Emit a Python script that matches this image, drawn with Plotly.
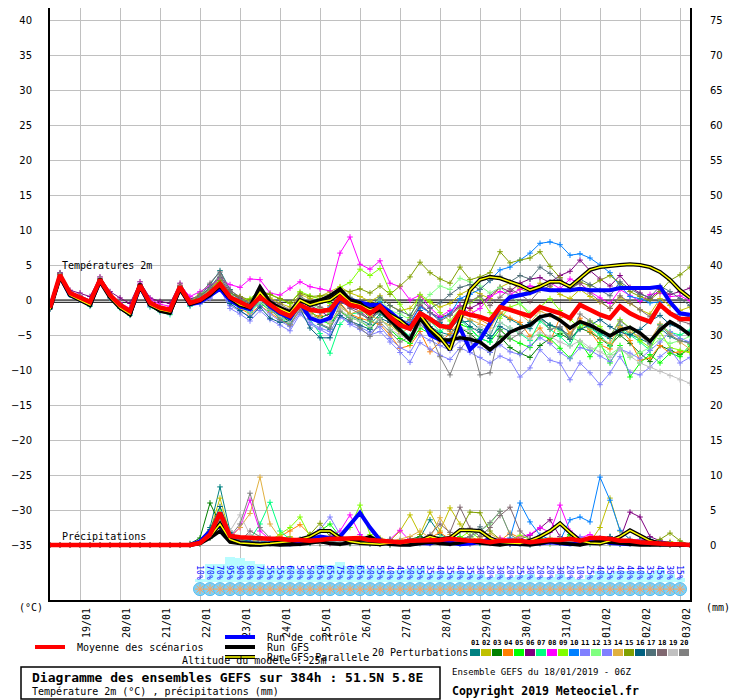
import plotly.graph_objects as go
import pandas as pd

# time axis: GEFS run 18/01/2019 06Z, 6-hourly steps up to 384h
times = pd.date_range('2019-01-18 06:00', periods=65, freq='6h')
pct_times = pd.date_range('2019-01-22 00:00', periods=49, freq='6h')
day_ticks = pd.date_range('2019-01-19', '2019-02-03', freq='D')
day_labels = [d.strftime('%d/%m') for d in day_ticks]

# 2m temperature (°C)
t_mean = [-1.1,3.6,1.0,0.4,-0.3,2.9,0.7,-0.7,-1.6,2.1,-0.4,-1.1,-1.4,1.9,-0.4,
          0.0,1.0,2.3,0.4,-0.3,-1.0,0.4,-0.7,
          -1.7,-2.3,-0.7,-1.4,-1.6,-1.4,0.4,-0.7,
          -1.0,-1.9,-0.9,-2.4,-3.6,-4.1,-1.9,-2.7,
          -3.7,-3.9,-1.7,-2.1,-2.4,-2.9,-1.0,-1.4,
          -1.9,-2.3,-1.0,-1.4,-1.9,-2.6,-0.7,-1.4,
          -2.1,-2.6,-0.9,-1.9,-2.6,-3.1,-0.7,-1.9,
          -2.7,-2.7]
t_control = [-1.1,3.4,0.7,0.0,-0.6,2.7,0.6,-1.0,-1.9,1.9,-0.6,-1.3,-1.6,1.7,-0.6,
             -0.3,0.6,1.6,0.0,-0.9,-1.3,1.0,-0.9,
             -1.9,-2.6,-0.4,-2.6,-3.1,-2.6,0.4,0.0,
             -0.3,-0.7,-0.7,-1.7,-2.9,-3.9,-2.1,-5.0,
             -5.7,-6.0,-4.0,-7.1,-5.7,-3.3,-1.0,0.4,
             0.7,1.0,1.6,1.4,1.4,1.4,1.6,1.4,
             1.4,1.4,1.7,1.7,1.7,1.7,1.9,-0.3,
             -1.9,-2.1]
t_gfs = [-1.3,3.4,0.9,0.1,-0.7,3.0,0.6,-1.1,-2.1,2.3,-0.6,-1.6,-1.9,1.7,-0.6,
         -0.1,0.7,2.1,0.3,-0.4,-0.9,1.9,-0.3,
         -1.1,-1.7,-0.1,-0.4,0.0,0.6,1.6,0.0,
         -0.4,-1.9,-1.4,-2.9,-4.3,-5.7,-2.6,-4.3,
         -5.7,-5.7,-5.4,-5.6,-6.0,-7.1,-6.0,-4.6,
         -4.0,-3.6,-2.4,-2.1,-2.9,-4.0,-3.1,-3.6,
         -4.3,-5.1,-4.3,-3.9,-4.7,-5.9,-4.3,-3.1,
         -3.9,-5.0]
t_para = [-1.3,3.3,0.7,0.0,-0.7,2.7,0.4,-1.1,-2.0,2.0,-0.7,-1.4,-1.7,1.6,-0.6,
          -0.1,0.9,2.0,0.3,-0.7,-1.1,1.1,-0.6,
          -1.3,-1.9,0.0,-0.7,-0.3,0.0,1.0,-0.3,
          -0.7,-1.4,-1.1,-2.1,-2.9,-4.1,-2.1,-4.0,
          -5.3,-7.1,-2.9,1.4,2.9,3.3,3.1,2.6,
          2.1,1.4,1.9,2.6,2.6,1.9,3.1,4.3,
          4.7,4.9,5.0,5.1,5.0,4.7,4.0,2.9,
          1.4,0.3]

t_p01 = [-1.0,3.8,1.1,0.3,-0.4,3.0,0.6,-0.8,-1.7,2.0,-0.5,-1.2,-1.5,1.8,-0.2,
         0.6,2.2,4.2,1.5,0.2,-1.5,1.0,-0.3,
         -2.5,-3.0,-0.2,-2.0,-3.5,-4.2,-0.5,-2.2,
         -2.8,-3.5,-2.0,-3.0,-4.5,-5.2,-2.5,-3.8,
         -4.6,-5.0,-3.2,-3.0,-4.2,-5.1,-2.0,-2.8,
         -3.5,-4.1,-2.5,-3.6,-4.2,-5.0,-3.1,-3.9,
         -4.8,-5.5,-3.6,-4.9,-5.6,-6.2,-4.0,-5.2,
         -5.9,-6.0]
t_p02 = [-1.2,3.5,0.9,0.2,-0.5,2.8,0.6,-0.9,-1.8,1.9,-0.6,-1.3,-1.6,1.7,-0.3,
         -0.2,0.8,2.0,0.8,0.5,-0.2,1.2,0.3,
         -0.5,-1.0,0.8,0.2,0.5,1.2,1.9,1.0,
         0.5,-0.2,0.6,-0.8,-1.5,-1.2,0.5,-0.3,
         -1.0,-0.5,0.8,1.5,0.9,0.2,1.8,2.5,
         1.6,1.0,2.4,1.9,0.8,0.2,1.5,0.5,
         -0.3,-1.2,0.4,-0.5,-1.4,-2.0,0.2,-0.8,
         -1.5,-1.0]
t_p03 = [-1.1,3.7,1.0,0.5,-0.2,3.0,0.8,-0.6,-1.5,2.1,-0.3,-1.0,-1.3,2.0,-0.4,
         0.3,1.2,2.8,0.2,-0.8,-1.8,0.0,-1.2,
         -2.0,-3.2,-1.0,-1.8,-2.5,-2.0,0.5,-0.8,
         -1.2,-2.5,-1.5,-3.2,-4.8,-5.5,-3.0,-4.2,
         -5.0,-5.8,-4.0,-4.8,-6.0,-7.5,-5.2,-6.8,
         -7.6,-8.2,-6.5,-5.5,-4.8,-5.6,-4.0,-4.6,
         -5.5,-6.5,-5.0,-6.2,-7.6,-8.8,-6.5,-7.2,
         -7.8,-7.0]
t_p04 = [-1.0,3.6,1.1,0.5,-0.2,2.9,0.9,-0.5,-1.4,2.2,-0.2,-0.9,-1.2,2.1,-0.5,
         0.2,1.5,3.0,0.0,-1.2,-2.0,-0.8,-1.8,
         -2.8,-3.5,-1.2,-2.6,-2.2,-0.8,-0.4,-2.0,
         -2.6,-3.0,-3.5,-5.0,-6.9,-6.5,-4.5,-7.4,
         -6.0,-4.8,-3.0,-1.2,-2.8,-3.6,-1.8,-2.6,
         -3.2,-5.2,-4.0,-6.0,-2.5,-4.8,-2.6,-4.5,
         -6.4,-7.0,-4.0,-5.8,-8.6,-8.3,-6.5,-7.6,
         -7.4,-7.4]
t_p05 = [-1.2,3.4,0.8,0.2,-0.6,2.7,0.5,-1.0,-1.9,1.8,-0.7,-1.4,-1.7,1.6,-0.6,
         -0.5,0.6,2.0,-0.2,-1.0,-1.6,-0.4,-1.5,
         -2.2,-2.8,-0.6,-1.5,-2.9,-3.4,-1.6,-2.5,
         -3.0,-4.0,-2.5,-4.2,-5.5,-6.2,-4.0,-4.8,
         -5.2,-5.9,-3.5,-4.0,-5.5,-6.0,-4.2,-5.5,
         -6.2,-6.8,-5.0,-5.5,-6.9,-8.3,-6.0,-8.1,
         -6.1,-9.0,-6.5,-11.0,-9.0,-7.8,-9.0,-7.6,
         -8.1,-6.4]
t_p06 = [-0.8,3.9,1.4,1.0,0.5,3.3,1.2,0.3,-0.5,2.6,0.3,-0.2,-0.5,2.4,0.2,
         0.5,1.8,3.2,1.0,0.2,-0.8,0.8,-0.2,
         -1.2,-1.8,0.2,-0.8,-1.5,-2.5,-0.2,-1.0,
         -1.6,-2.8,-1.2,-2.0,-3.0,-3.5,-0.8,-1.8,
         -2.5,-2.0,-0.8,-1.2,-0.5,0.6,1.8,1.2,
         2.4,3.0,3.2,2.5,3.5,4.1,5.7,4.2,
         3.0,2.0,3.5,1.8,1.0,0.2,1.5,0.8,
         1.2,1.7]
t_p07 = [-1.3,3.3,0.7,0.0,-0.9,2.6,0.3,-1.2,-2.2,1.5,-1.0,-1.7,-2.1,1.3,-0.9,
         -0.3,0.9,2.2,-0.4,-1.0,-1.8,-0.3,-1.4,
         -2.6,-3.4,-0.8,-2.8,-4.8,-7.6,-3.5,-2.0,
         -1.8,-3.0,-1.5,-2.8,-4.0,-5.2,-2.2,-3.0,
         -4.5,-3.5,-2.8,-4.2,-5.5,-6.0,-3.2,-4.0,
         -4.8,-5.8,-3.0,-4.2,-5.2,-6.5,-3.5,-4.0,
         -5.0,-6.6,-4.2,-5.0,-6.0,-7.2,-3.5,-4.6,
         -5.0,-4.3]
t_p08 = [-1.0,3.7,1.2,0.6,0.0,3.1,0.9,-0.4,-1.2,2.3,0.1,-0.6,-0.9,2.1,0.5,
         1.2,2.0,3.0,2.2,1.8,3.0,2.9,1.0,
         0.7,1.7,2.6,1.9,1.6,1.3,6.7,9.0,
         5.1,4.4,5.6,2.4,1.9,0.0,0.7,-1.1,
         -2.4,-1.5,-0.8,-2.0,-1.2,0.5,1.2,0.8,
         1.5,2.0,1.8,2.5,1.6,3.0,2.4,1.2,
         0.3,-0.5,1.5,0.6,-0.2,0.8,1.0,0.5,
         0.6,-0.1]
t_p09 = [-1.1,3.6,1.0,0.4,-0.3,2.9,0.7,-0.7,-1.6,2.0,-0.4,-1.1,-1.4,1.9,-0.3,
         0.8,1.5,2.6,0.6,-0.2,0.2,1.4,0.8,
         0.2,-0.5,1.2,0.6,0.0,-0.5,1.8,2.5,
         4.4,3.5,4.5,1.2,-0.6,-2.5,0.8,-0.2,
         -1.8,-3.0,-1.2,-0.4,0.5,-1.8,-2.6,-1.0,
         -0.5,-2.2,-1.0,0.2,-1.5,-2.8,-4.0,-3.0,
         -3.8,-5.2,-2.8,-4.0,-5.8,-6.8,-4.5,-6.8,
         -7.2,-7.5]
t_p10 = [-1.0,3.7,1.0,0.3,-0.5,2.8,0.6,-0.8,-1.7,2.0,-0.5,-1.2,-1.5,1.8,-0.5,
         0.0,1.0,2.2,0.0,-0.8,-1.5,0.0,-1.0,
         -1.8,-2.5,-0.8,-1.6,-1.8,-1.0,0.6,-0.5,
         -0.6,-1.5,-0.2,-1.8,-2.8,-3.2,-1.0,-1.8,
         -2.8,-2.0,0.2,0.8,1.5,2.8,4.3,4.7,
         5.7,6.7,8.1,8.3,7.9,6.4,6.6,6.0,
         5.0,3.9,2.0,0.5,0.2,-0.4,-0.3,-1.9,
         -2.1,-2.4]
t_p11 = [-1.2,3.5,0.9,0.1,-0.7,2.7,0.4,-1.0,-2.0,1.7,-0.8,-1.5,-1.8,1.6,-0.7,
         -0.4,0.4,1.8,-0.8,-1.6,-2.4,-0.8,-2.0,
         -3.0,-3.8,-1.8,-3.2,-4.0,-4.5,-2.2,-3.5,
         -4.2,-5.0,-4.5,-6.0,-7.5,-8.9,-6.1,-7.0,
         -7.9,-8.5,-6.8,-7.5,-8.2,-9.0,-8.0,-8.6,
         -11.0,-9.7,-7.1,-8.6,-9.0,-11.4,-9.0,-10.4,
         -12.1,-10.4,-8.1,-10.3,-10.7,-9.6,-8.1,-7.0,
         -9.0,-8.2]
t_p12 = [-1.1,3.6,1.1,0.5,-0.2,3.0,0.8,-0.6,-1.5,2.1,-0.3,-1.0,-1.3,2.0,-0.2,
         0.4,1.4,2.6,0.8,0.0,-0.6,0.9,-0.4,
         -1.0,-1.6,0.4,-0.6,-1.2,-1.8,0.3,-0.2,
         -0.4,-1.2,0.2,-1.5,-2.0,-2.8,-0.5,0.8,
         2.0,1.5,3.1,2.6,2.0,1.0,1.8,0.6,
         -0.5,-1.8,-2.5,-3.6,-4.5,-5.2,-6.0,-7.2,
         -6.5,-7.8,-6.8,-8.2,-7.5,-6.8,-5.5,-6.2,
         -5.8,-5.2]
t_p13 = [-1.3,3.4,0.8,0.0,-0.8,2.6,0.3,-1.1,-2.1,1.6,-0.9,-1.6,-1.9,1.5,-0.8,
         -0.6,0.2,1.6,-1.2,-2.0,-3.0,-1.5,-2.8,
         -3.6,-4.4,-2.0,-3.5,-4.2,-5.0,-2.5,-3.2,
         -3.8,-4.6,-3.8,-5.5,-6.8,-7.5,-5.0,-5.8,
         -6.5,-7.2,-5.8,-6.0,-6.8,-7.5,-6.4,-7.4,
         -7.8,-6.5,-5.4,-6.2,-7.5,-8.4,-6.8,-7.2,
         -8.0,-8.8,-7.0,-7.6,-8.4,-7.2,-6.0,-4.5,
         -5.5,-6.0]
t_p14 = [-1.0,3.7,1.1,0.4,-0.3,3.0,0.8,-0.6,-1.5,2.0,-0.4,-1.1,-1.3,2.0,-0.3,
         0.2,1.2,2.5,0.2,-0.6,-1.0,0.6,-0.8,
         -1.5,-2.2,-0.3,-1.8,-2.6,-3.3,-1.0,-2.0,
         -1.5,-2.2,-2.8,-3.6,-4.8,-3.9,-2.0,-3.1,
         -3.8,-4.5,-2.2,-2.8,-3.5,-4.0,-1.8,-1.2,
         -2.0,-3.2,-1.6,-2.2,-2.5,-5.0,-3.2,-4.2,
         -5.6,-6.2,-3.8,-4.6,-5.2,-5.8,-3.4,-4.8,
         -6.0,-7.0]
t_p15 = [-1.1,3.6,1.0,0.4,-0.3,2.9,0.7,-0.7,-1.6,2.0,-0.4,-1.1,-1.4,1.9,-0.4,
         0.6,1.6,2.8,1.0,0.5,0.0,1.2,0.8,
         0.2,-0.4,1.0,0.5,0.6,0.8,1.4,1.2,
         1.6,1.0,2.0,0.8,2.0,3.3,5.4,3.9,
         3.0,2.4,4.7,2.9,3.3,3.9,6.9,5.3,
         5.7,6.0,6.9,4.8,3.2,1.5,2.6,2.0,
         2.8,3.5,2.4,1.2,0.5,0.0,1.2,2.8,
         3.6,4.7]
t_p16 = [-1.2,3.5,0.9,0.3,-0.4,2.8,0.6,-0.8,-1.7,1.9,-0.5,-1.2,-1.5,1.8,-0.5,
         -0.2,0.7,1.9,-0.5,-1.5,-2.5,-1.0,-2.6,
         -3.2,-3.0,-1.2,-4.0,-5.4,-5.4,-2.2,-3.0,
         -3.6,-4.2,-2.6,-3.2,-2.5,-3.8,-1.5,-2.6,
         -3.2,-4.2,-2.6,-3.8,-4.6,-5.5,-3.8,-4.5,
         -4.0,-3.2,-2.5,-3.6,-4.0,-5.6,-4.2,-3.6,
         -2.8,-3.8,-4.6,-5.0,-4.2,-3.0,-2.2,-3.5,
         -4.0,-4.6]
t_p17 = [-1.1,3.6,1.0,0.3,-0.4,2.9,0.6,-0.8,-1.6,2.0,-0.5,-1.1,-1.5,1.9,-0.3,
         0.5,1.8,3.6,1.2,0.0,-0.4,0.8,-0.5,
         -1.2,-2.0,0.0,-1.0,-0.5,0.2,1.0,0.4,
         -0.2,-1.0,0.4,-0.8,-1.6,-2.2,0.0,-1.2,
         -0.4,0.8,1.8,2.2,1.5,2.8,3.4,2.6,
         3.5,3.0,4.7,3.8,2.6,1.8,3.0,2.2,
         1.4,0.6,2.6,1.6,0.8,0.4,2.0,1.2,
         0.2,-0.8]
t_p18 = [-1.0,3.8,1.2,0.6,0.0,3.1,0.9,-0.5,-1.4,2.2,-0.2,-0.9,-1.2,2.1,-0.1,
         0.9,2.4,4.0,1.4,0.4,-0.5,1.5,0.0,
         -0.6,-1.4,0.6,-0.4,-1.0,-1.5,0.2,-1.2,
         -2.0,-2.8,-1.6,-3.0,-3.5,-2.8,-0.6,-1.8,
         -3.0,-2.2,-1.0,-0.2,0.6,-0.8,0.4,1.6,
         0.8,-0.2,1.4,2.0,3.0,1.6,2.4,1.0,
         -0.2,-1.2,0.6,-0.4,-1.4,-2.4,-0.6,-1.8,
         -3.0,-3.4]
t_p19 = [-1.1,3.5,0.9,0.3,-0.5,2.8,0.5,-0.9,-1.8,1.9,-0.6,-1.3,-1.6,1.7,-0.5,
         0.0,0.9,2.1,0.0,-0.9,-1.7,-0.2,-1.4,
         -2.4,-3.2,-1.2,-2.2,-2.8,-3.2,-1.4,-2.4,
         -3.0,-3.8,-2.6,-4.2,-5.0,-5.8,-3.6,-4.4,
         -5.2,-5.6,-4.0,-4.4,-3.8,-4.6,-3.2,-4.0,
         -4.6,-5.6,-4.6,-5.2,-6.0,-6.6,-5.8,-6.8,
         -7.4,-8.2,-7.0,-8.0,-9.0,-9.6,-10.2,-10.8,
         -11.4,-11.9]
t_p20 = [-1.2,3.4,0.8,0.1,-0.7,2.6,0.4,-1.0,-1.9,1.8,-0.7,-1.4,-1.7,1.6,-0.7,
         0.4,1.6,3.4,0.6,-0.4,-1.2,0.4,-1.2,
         -2.8,-3.6,-1.4,-2.6,-3.4,-4.0,-1.6,-2.8,
         -4.0,-5.2,-3.2,-4.6,-6.0,-5.2,-3.4,-4.8,
         -8.1,-10.7,-7.1,-5.3,-10.7,-10.4,-4.3,-5.6,
         -4.8,-3.6,-2.6,-4.2,-3.8,-5.4,-2.0,-3.0,
         -4.4,-5.2,-3.0,-4.0,-5.0,-6.4,-3.6,-5.0,
         -5.8,-6.2]

# 6h precipitation (mm)
r_mean = [0,0,0,0,0,0,0,0,0,0,0,0,0,0,
          0.0,0.3,1.5,4.6,1.3, 1.1,1.0,1.0,0.9,0.9, 0.7,0.7,0.6,0.7,0.9,
          0.9,1.0,1.0,0.7,0.6, 0.4,0.4,0.6,0.6,0.7, 0.7,0.9,0.7,0.6,0.6,
          0.4,0.6,0.6,0.6,0.4, 0.6,0.7,0.7,0.9,0.6, 1.0,1.0,0.9,0.6,0.6,
          0.4,0.3,0.1,0.1,0.1,0.0]
r_control = [0,0,0,0,0,0,0,0,0,0,0,0,0,0,
             0,0.5,2.0,2.8,0.8, 0.3,0.2,0.1,0.2,0.1, 0.1,0.2,0.8,1.2,1.0,
             1.2,2.8,4.6,2.5,0.7, 0.2,0.1,0.1,0.3,0.2, 0.6,0.3,0.1,0.2,0.4,
             0.8,0.3,0.2,0.1,0.3, 0.2,0.4,0.3,0.1,0.2, 0.5,0.8,0.3,0.2,0.1,
             0.3,0.2,0.1,0,0,0]
r_gfs = [0,0,0,0,0,0,0,0,0,0,0,0,0,0,
         0,0.2,1.0,2.0,0.4, 0.2,0,0,0.1,0, 0,0.1,0.3,0.5,0.2,
         0.1,0.3,0.8,1.2,0.4, 0.1,0,0,0.2,0.4, 0.2,0.1,0.3,0.6,0.3,
         0.1,0,0.2,0.1,0, 0.2,0.5,0.3,0.1,0, 0.3,0.6,0.4,0.2,0.1,
         0,0,0.1,0,0,0]
r_para = [0,0,0,0,0,0,0,0,0,0,0,0,0,0,
          0,0.3,1.2,3.0,0.8, 0.3,0.2,0.1,0.2,0.3, 0.5,0.8,1.2,2.0,2.0,
          1.0,0.5,0.3,0.2,0.1, 0.3,0.2,0.4,0.6,1.2, 0.8,1.0,2.1,2.1,2.0,
          1.0,0.4,0.3,0.2,0.6, 1.2,2.0,3.1,1.8,0.6, 0.3,0.2,0.6,1.2,2.1,
          1.4,0.6,0.2,0.1,0,0]

r_p01 = [0,0,0,0,0,0,0,0,0,0,0,0,0,0,
         0,0.5,2.5,8.3,2.0, 0.8,0.5,0.3,0.6,1.0, 0.4,0.2,0.5,0.8,1.2,
         0.6,0.3,0.8,0.5,0.2, 0,0.3,0.6,1.0,3.6, 1.5,0.8,0.4,0.2,0.6,
         1.0,0.5,0.3,0.2,0, 0.4,0.8,0.5,0.3,0.6, 0.2,0.8,1.2,0.6,0.3,
         0.4,0.8,0.4,0.2,0,0]
r_p02 = [0,0,0,0,0,0,0,0,0,0,0,0,0,0,
         0,0.3,2.0,6.7,1.5, 0.6,0.3,0.2,0.4,0.8, 1.2,0.5,0.3,0.2,0.6,
         0.9,0.4,0.2,0.5,1.0, 0.6,2.0,4.3,1.5,4.7, 2.0,5.3,3.0,1.2,0.6,
         0.3,0.5,0.8,0.4,0.2, 0.6,1.0,0.5,1.4,0.8, 0.4,2.5,6.7,2.0,0.8,
         0.4,0.2,0.3,0.5,0.2,0]
r_p03 = [0,0,0,0,0,0,0,0,0,0,0,0,0,0,
         0.2,1.0,6.0,3.0,1.2, 0.6,0.4,0.3,0.2,0.5, 0.8,0.4,0.6,1.0,0.5,
         0.3,0.2,0.4,0.2,0.1, 0.3,0.5,0.8,1.2,0.6, 0.3,0.4,0.2,0.8,0.5,
         0.3,0.2,0.1,0.4,0.6, 0.3,0.2,0.5,0.3,0.2, 0.8,0.4,0.2,0.1,0.3,
         0.5,0.2,0.1,0,0,0]
r_p04 = [0,0,0,0,0,0,0,0,0,0,0,0,0,0,
         0,0.4,1.5,3.5,1.0, 0.5,0.8,0.4,0.6,1.2, 2.0,2.9,1.5,0.6,0.3,
         0.2,0.5,0.8,0.4,0.2, 0.1,0.3,0.2,0.6,1.0, 1.8,0.8,0.5,0.3,0.6,
         1.0,0.6,1.7,1.0,0.4, 0.2,0.5,0.8,0.3,0.6, 0.4,0.2,0.8,0.5,0.3,
         0.6,0.3,0.2,0.1,0,0]
r_p05 = [0,0,0,0,0,0,0,0,0,0,0,0,0,0,
         0,0.2,1.2,4.2,1.5, 0.6,0.3,0.2,0.5,0.3, 0.6,0.8,1.4,2.0,3.0,
         1.2,0.5,0.3,0.2,0.4, 0.8,0.4,0.2,0.3,0.6, 0.4,0.8,1.2,0.6,0.3,
         0.5,0.2,0.8,0.4,0.3, 1.0,0.6,0.3,1.5,0.5, 0.2,0.4,0.6,0.3,0.2,
         0.5,0.3,0.2,0.1,0,0]
r_p06 = [0,0,0,0,0,0,0,0,0,0,0,0,0,0,
         0,0.3,1.8,3.2,1.0, 0.5,0.2,0.4,0.3,0.2, 0.5,0.3,0.6,0.4,0.2,
         0.8,0.5,0.3,0.6,0.3, 0.2,0.4,0.3,0.8,0.5, 0.3,0.6,0.4,0.2,0.3,
         0.6,0.4,0.2,0.8,1.4, 2.4,3.6,1.2,0.6,0.3, 0.8,1.0,0.5,0.8,4.7,
         4.0,1.2,0.6,0.3,0.1,0]
r_p07 = [0,0,0,0,0,0,0,0,0,0,0,0,0,0,
         0,0.2,1.0,3.8,1.5, 1.0,0.8,3.0,6.1,2.0, 0.8,0.4,0.3,0.6,0.4,
         0.2,0.5,0.8,0.3,0.2, 0.4,0.6,0.3,0.2,0.8, 0.5,1.0,0.6,0.3,0.2,
         0.4,0.3,0.6,0.8,0.4, 0.2,0.3,0.5,0.2,0.6, 0.3,0.2,0.4,0.2,0.6,
         0.8,0.4,0.2,0.1,0,0]
r_p08 = [0,0,0,0,0,0,0,0,0,0,0,0,0,0,
         0,0.3,1.5,4.0,1.2, 2.5,6.4,2.0,0.8,0.5, 0.3,0.6,0.4,0.8,1.2,
         2.0,4.3,1.5,0.6,0.4, 0.8,2.1,0.6,0.3,0.5, 0.4,0.2,0.6,0.8,0.4,
         0.6,1.0,0.8,1.2,1.5, 2.5,1.8,5.7,2.0,1.0, 1.5,0.8,0.5,0.3,0.6,
         0.8,0.4,0.3,0.2,0.1,0]
r_p09 = [0,0,0,0,0,0,0,0,0,0,0,0,0,0,
         0,0.4,2.0,5.0,1.5, 0.8,0.5,0.3,0.6,1.5, 2.5,4.0,1.2,0.5,0.8,
         1.0,2.5,5.7,1.5,0.6, 0.3,0.2,0.5,0.8,0.3, 0.6,0.4,1.0,2.0,0.8,
         0.5,0.3,0.6,1.4,0.8, 0.4,0.2,0.6,0.3,0.8, 0.5,0.3,0.2,0.4,0.6,
         0.3,0.2,0.4,0.2,0.1,0]
r_p10 = [0,0,0,0,0,0,0,0,0,0,0,0,0,0,
         0,0.2,1.2,3.5,0.8, 0.5,0.3,0.6,0.4,0.2, 0.5,0.8,0.4,0.3,0.6,
         0.4,0.8,1.2,0.6,0.3, 0.2,0.4,0.8,0.5,0.3, 0.6,0.4,0.2,0.5,0.3,
         0.8,0.4,1.0,6.0,3.3, 1.4,0.8,0.6,3.6,4.0, 3.3,9.7,6.4,2.1,0.8,
         0.6,0.3,0.5,0.2,0.1,0]
r_p11 = [0,0,0,0,0,0,0,0,0,0,0,0,0,0,
         0,0.3,1.0,3.0,0.8, 0.4,0.6,0.3,0.5,0.8, 0.4,0.6,1.0,2.2,4.0,
         1.5,0.6,0.3,0.2,0.4, 0.3,0.5,0.2,0.6,0.4, 0.2,0.3,0.5,0.8,0.4,
         0.2,0.4,0.3,0.6,0.2, 0.4,0.8,0.5,0.3,0.2, 0.4,0.6,0.3,0.2,0.5,
         0.3,0.2,0.1,0.1,0,0]
r_p12 = [0,0,0,0,0,0,0,0,0,0,0,0,0,0,
         0,0.2,1.5,4.5,1.0, 0.6,0.4,0.8,0.5,0.3, 0.6,0.4,0.2,0.5,0.8,
         0.4,0.6,1.0,0.5,0.3, 0.2,0.6,0.4,0.3,0.8, 1.2,0.6,0.4,0.8,2.0,
         3.0,4.8,1.5,0.6,0.3, 0.4,0.8,1.0,0.5,0.3, 0.6,0.4,0.2,0.5,0.3,
         0.6,0.4,0.2,0.1,0,0]
r_p13 = [0,0,0,0,0,0,0,0,0,0,0,0,0,0,
         0,0.4,1.8,3.8,1.2, 0.5,0.3,0.2,0.6,0.4, 0.8,0.5,0.3,0.6,1.0,
         0.8,0.4,0.6,0.3,0.2, 0.5,0.3,0.6,0.8,0.4, 0.3,0.2,0.6,0.4,0.8,
         0.5,0.3,0.2,0.4,0.6, 0.8,0.5,0.3,0.6,1.2, 0.8,0.4,0.3,0.5,0.8,
         0.4,0.3,0.2,0.1,0,0]
r_p14 = [0,0,0,0,0,0,0,0,0,0,0,0,0,0,
         0,0.3,1.2,3.0,1.0, 2.5,4.5,9.7,3.0,1.0, 0.5,0.3,0.6,0.4,0.8,
         0.5,0.3,0.6,0.4,0.2, 0.5,0.8,1.2,2.0,1.0, 3.9,1.5,0.8,0.4,1.0,
         1.6,0.8,0.5,0.3,0.6, 0.4,0.8,0.5,0.3,0.6, 0.4,0.2,0.5,0.3,0.6,
         0.4,0.3,0.2,0.1,0,0]
r_p15 = [0,0,0,0,0,0,0,0,0,0,0,0,0,0,
         0,0.2,1.0,3.5,1.2, 0.6,0.4,0.3,0.5,0.8, 0.4,0.6,1.5,3.1,1.2,
         0.6,0.4,0.8,0.5,0.3, 0.2,0.4,0.6,0.3,0.8, 0.5,1.2,2.0,4.7,4.6,
         2.0,0.8,0.4,0.3,0.6, 0.8,0.5,0.3,0.6,0.4, 0.8,0.5,0.3,0.6,0.4,
         0.2,0.5,0.8,1.7,0.6,0]
r_p16 = [0,0,0,0,0,0,0,0,0,0,0,0,0,0,
         0,0.5,2.2,5.5,1.8, 0.8,0.5,0.3,0.6,0.4, 0.2,0.5,0.3,0.8,0.6,
         0.4,0.3,0.6,1.0,0.8, 0.5,0.3,0.6,0.4,1.2, 0.8,0.4,0.3,0.6,0.5,
         0.3,0.6,0.4,0.2,0.5, 0.8,0.4,0.3,0.6,0.4, 0.5,0.8,1.2,0.8,0.4,
         0.6,0.8,0.4,0.2,0.1,0]
r_p17 = [0,0,0,0,0,0,0,0,0,0,0,0,0,0,
         0,0.3,1.6,4.4,1.5, 0.6,0.4,0.6,0.8,0.5, 0.3,0.6,0.4,0.2,0.5,
         0.8,0.4,0.6,0.3,0.5, 0.8,0.4,0.6,0.3,0.2, 0.6,0.4,0.8,1.2,2.6,
         1.0,0.5,0.3,0.6,0.4, 0.3,0.6,0.4,0.8,0.5, 0.3,0.6,0.4,0.3,0.5,
         0.4,0.2,0.3,0.1,0,0]
r_p18 = [0,0,0,0,0,0,0,0,0,0,0,0,0,0,
         0,0.2,1.4,4.0,1.0, 0.5,2.0,1.2,0.6,0.3, 0.5,0.4,0.6,0.3,0.8,
         0.5,0.4,0.6,0.8,0.4, 0.3,0.5,0.6,0.8,1.5, 3.0,1.8,5.4,2.4,1.2,
         2.5,4.2,5.4,2.0,0.8, 0.5,0.4,0.6,0.3,0.5, 0.4,0.3,0.6,0.4,0.2,
         0.3,0.5,0.2,0.1,0,0]
r_p19 = [0,0,0,0,0,0,0,0,0,0,0,0,0,0,
         0,0.2,1.0,3.2,2.0, 4.3,1.5,0.8,0.4,0.6, 0.3,0.5,0.8,0.4,0.3,
         0.6,0.4,0.3,0.5,0.2, 0.4,0.6,0.3,0.2,0.5, 0.3,0.6,0.4,0.2,0.5,
         0.3,0.6,0.4,0.8,0.5, 0.3,0.2,0.4,0.6,0.3, 0.2,0.4,0.6,0.3,0.2,
         0.4,0.2,0.1,0.1,0,0]
r_p20 = [0,0,0,0,0,0,0,0,0,0,0,0,0,0,
         0,0.4,1.5,3.8,1.2, 3.0,7.4,2.5,1.0,0.5, 0.3,0.6,0.4,0.8,0.5,
         0.3,0.6,0.4,0.2,0.5, 0.3,0.6,0.8,0.4,0.6, 0.3,0.5,0.8,1.2,2.0,
         3.2,4.8,1.5,0.6,0.4, 0.3,0.5,0.8,0.4,0.2, 0.6,0.4,0.3,0.5,0.2,
         0.4,0.3,0.2,0.1,0,0]

# precipitation probability (%) from 22/01 00Z
pct = [10,70,70,95,90,80,70,55,55,60,
       50,50,65,65,75,60,65,50,55,40,
       45,50,55,35,40,35,40,35,30,20,
       30,20,25,30,20,20,30,20,10,25,
       40,35,40,40,40,35,45,30,15]

pert_t = [t_p01, t_p02, t_p03, t_p04, t_p05, t_p06, t_p07, t_p08, t_p09, t_p10,
          t_p11, t_p12, t_p13, t_p14, t_p15, t_p16, t_p17, t_p18, t_p19, t_p20]
pert_r = [r_p01, r_p02, r_p03, r_p04, r_p05, r_p06, r_p07, r_p08, r_p09, r_p10,
          r_p11, r_p12, r_p13, r_p14, r_p15, r_p16, r_p17, r_p18, r_p19, r_p20]
pert_colors = ['#008080', '#c0c000', '#008000', '#ff8000', '#00ff00', '#800080', '#00ff80',
               '#ff00ff', '#80ff00', '#0080ff', '#8080ff', '#80ff80', '#8080ff', '#e0b040',
               '#80a000', '#006080', '#507078', '#806870', '#c0c0c0', '#808080']
pert_names = ['%02d' % (k + 1) for k in range(20)]

zero_levels = [0.0, -0.33]
snow_level = -41.3
pct_label_level = -38.9

MONO = 'DejaVu Sans Mono'

# the page body has an 8px margin: the figure starts at (8, 8)
# plot area in page pixels: x 50..690, y 8..600
def px(x):
    return (x - 50) / 640


def py(y):
    return (600 - y) / 592


fig = go.Figure()

# cyan probability bars behind the % labels
fig.add_trace(go.Bar(x=pct_times, y=pct, yaxis='y3', marker=dict(color='#b8fcff', line_width=0),
                     width=6 * 3600 * 1000, hoverinfo='skip'))

# 0°C double line
for lvl in zero_levels:
    fig.add_trace(go.Scatter(x=[times[0], times[-1]], y=[lvl, lvl], mode='lines',
                             line=dict(color='black', width=1), hoverinfo='skip'))

for vals, col, name in zip(pert_t, pert_colors, pert_names):
    fig.add_trace(go.Scatter(x=times[:len(vals)], y=vals, mode='lines+markers', name=name,
                             line=dict(color=col, width=1),
                             marker=dict(symbol='cross-thin', size=4, line=dict(width=1, color=col))))
for vals, col, name in zip(pert_r, pert_colors, pert_names):
    fig.add_trace(go.Scatter(x=times[:len(vals)], y=vals, yaxis='y2', mode='lines+markers', name=name,
                             line=dict(color=col, width=1),
                             marker=dict(symbol='cross-thin', size=4, line=dict(width=1, color=col))))

for yax, ctl, gfs, para, mean in [('y', t_control, t_gfs, t_para, t_mean),
                                  ('y2', r_control, r_gfs, r_para, r_mean)]:
    fig.add_trace(go.Scatter(x=times, y=ctl, yaxis=yax, mode='lines', name='Run de contrôle',
                             line=dict(color='#0000ff', width=4)))
    fig.add_trace(go.Scatter(x=times, y=gfs, yaxis=yax, mode='lines', name='Run GFS',
                             line=dict(color='black', width=3.5)))
    fig.add_trace(go.Scatter(x=times, y=para, yaxis=yax, mode='lines', name='Run GFS Parallele',
                             line=dict(color='black', width=4)))
    fig.add_trace(go.Scatter(x=times, y=para, yaxis=yax, mode='lines', hoverinfo='skip',
                             line=dict(color='#ffff00', width=1.5)))
    fig.add_trace(go.Scatter(x=times, y=mean, yaxis=yax, mode='lines', name='Moyenne des scénarios',
                             line=dict(color='#ff0000', width=4.5)))

# snow / precipitation-type strip
fig.add_trace(go.Scatter(x=pct_times, y=[snow_level] * len(pct_times), mode='markers',
                         marker=dict(symbol='circle', size=13, color='#80d0f4',
                                     line=dict(width=1, color='#58bcee')), hoverinfo='skip'))
fig.add_trace(go.Scatter(x=pct_times, y=[snow_level] * len(pct_times), mode='markers',
                         marker=dict(symbol='asterisk-open', size=8,
                                     line=dict(width=1, color='#e0f6ff')), hoverinfo='skip'))

for t, p in zip(pct_times, pct):
    fig.add_annotation(x=t, y=pct_label_level, xref='x', yref='y', text='%d%%' % p,
                       textangle=90, showarrow=False,
                       font=dict(family=MONO, size=8, color='#0000ff'))

# texts inside plot
fig.add_annotation(x=px(60), y=py(265), xref='paper', yref='paper', text='Températures 2m',
                   showarrow=False, xanchor='left', yanchor='middle', font=dict(family=MONO, size=10, color='black'))
fig.add_annotation(x=px(60), y=py(536), xref='paper', yref='paper', text='Précipitations',
                   showarrow=False, xanchor='left', yanchor='middle', font=dict(family=MONO, size=10, color='black'))
fig.add_annotation(x=px(31), y=py(607), xref='paper', yref='paper', text='(°C)',
                   showarrow=False, xanchor='center', yanchor='middle', font=dict(family=MONO, size=10, color='black'))
fig.add_annotation(x=px(718), y=py(607), xref='paper', yref='paper', text='(mm)',
                   showarrow=False, xanchor='center', yanchor='middle', font=dict(family=MONO, size=10, color='black'))

# legend lines
shapes = []
shapes.append(dict(type='line', xref='paper', yref='paper', x0=px(35), x1=px(65), y0=py(647), y1=py(647),
                   line=dict(color='#ff0000', width=4)))
shapes.append(dict(type='line', xref='paper', yref='paper', x0=px(225), x1=px(255), y0=py(637), y1=py(637),
                   line=dict(color='#0000ff', width=4)))
shapes.append(dict(type='line', xref='paper', yref='paper', x0=px(225), x1=px(255), y0=py(647), y1=py(647),
                   line=dict(color='black', width=4)))
shapes.append(dict(type='line', xref='paper', yref='paper', x0=px(225), x1=px(255), y0=py(657), y1=py(657),
                   line=dict(color='black', width=4)))
shapes.append(dict(type='line', xref='paper', yref='paper', x0=px(225), x1=px(255), y0=py(657), y1=py(657),
                   line=dict(color='#ffff00', width=1.5)))
legend_texts = [('Moyenne des scénarios', 75, 647), ('Run de contrôle', 265, 637), ('Run GFS', 265, 647),
                ('Run GFS Parallele', 265, 657), ('Altitude du modele : 25m', 180, 660),
                ('20 Perturbations', 370, 652)]
for txt, lx, ly in legend_texts:
    fig.add_annotation(x=px(lx), y=py(ly), xref='paper', yref='paper', text=txt, showarrow=False,
                       xanchor='left', yanchor='middle', font=dict(family=MONO, size=10, color='black'))

for k, (col, name) in enumerate(zip(pert_colors, pert_names)):
    cx = 475 + 11 * k
    shapes.append(dict(type='rect', xref='paper', yref='paper', x0=px(cx - 5), x1=px(cx + 5),
                       y0=py(656), y1=py(649), fillcolor=col, line=dict(width=0)))
    fig.add_annotation(x=px(cx), y=py(643), xref='paper', yref='paper', text='<b>%s</b>' % name,
                       showarrow=False, xanchor='center', yanchor='middle',
                       font=dict(family=MONO, size=7, color='black'))

# info box
shapes.append(dict(type='rect', xref='paper', yref='paper', x0=px(21), x1=px(440), y0=py(699), y1=py(667),
                   line=dict(color='black', width=1.5), fillcolor='rgba(0,0,0,0)'))
fig.add_annotation(x=px(30), y=py(677), xref='paper', yref='paper',
                   text='<b>Diagramme des ensembles GEFS sur 384h : 51.5N 5.8E</b>', showarrow=False,
                   xanchor='left', yanchor='middle', font=dict(family=MONO, size=13, color='black'))
fig.add_annotation(x=px(30), y=py(691), xref='paper', yref='paper',
                   text='Température 2m (°C) , précipitations (mm)', showarrow=False,
                   xanchor='left', yanchor='middle', font=dict(family=MONO, size=10, color='black'))
fig.add_annotation(x=px(450), y=py(672), xref='paper', yref='paper',
                   text='Ensemble GEFS du 18/01/2019 - 06Z', showarrow=False,
                   xanchor='left', yanchor='middle', font=dict(family=MONO, size=9, color='black'))
fig.add_annotation(x=px(450), y=py(691), xref='paper', yref='paper',
                   text='<b>Copyright 2019 Meteociel.fr</b>', showarrow=False,
                   xanchor='left', yanchor='middle', font=dict(family=MONO, size=11.5, color='black'))

fig.update_layout(
    width=732, height=692,
    margin=dict(l=42, r=50, t=0, b=100),
    plot_bgcolor='white', paper_bgcolor='white',
    showlegend=False, bargap=0,
    shapes=shapes,
    xaxis=dict(type='date', range=[times[0], times[-1]], tickvals=day_ticks, ticktext=day_labels,
               tickangle=-90, showgrid=True, gridcolor='#c0c0c0', gridwidth=1, zeroline=False,
               showline=True, linecolor='black', linewidth=2, ticks='',
               ticklabelshift=7, ticklabelstandoff=2,
               tickfont=dict(family=MONO, size=10, color='black')),
    yaxis=dict(range=[-42.857, 41.714], tickvals=list(range(-35, 45, 5)), showgrid=True,
               gridcolor='#c0c0c0', gridwidth=1, zeroline=False, showline=True, linecolor='black',
               linewidth=2, ticks='', ticklabelstandoff=14,
               tickfont=dict(family='DejaVu Sans', size=10, color='black')),
    yaxis2=dict(overlaying='y', side='right', range=[-7.857, 76.714], tickvals=list(range(0, 80, 5)),
                showgrid=False, zeroline=False, showline=True, linecolor='black', linewidth=2,
                ticks='', ticklabelstandoff=16,
                tickfont=dict(family='DejaVu Sans', size=10, color='black')),
    yaxis3=dict(overlaying='y', visible=False, range=[-68.4, 2181.6]),
)

fig.write_html("out.html")
